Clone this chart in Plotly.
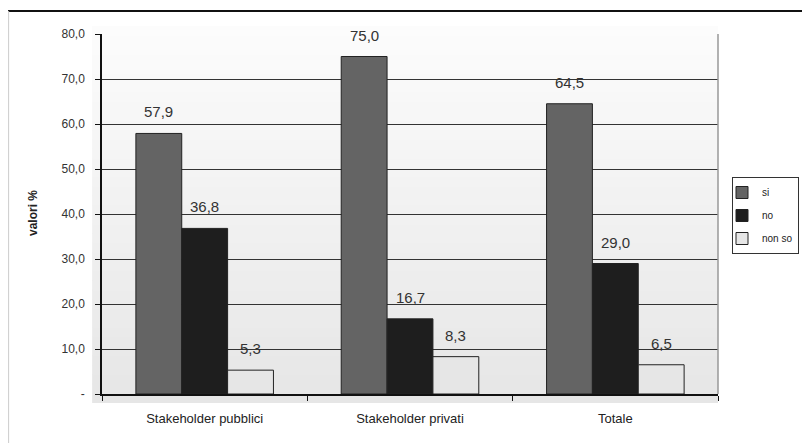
import plotly.graph_objects as go

categories = ["Stakeholder pubblici", "Stakeholder privati", "Totale"]
series_names = ["si", "no", "non so"]
si_values = [57.9, 75.0, 64.5]
no_values = [36.8, 16.7, 29.0]
nonso_values = [5.3, 8.3, 6.5]
y_tick_values = [0, 10, 20, 30, 40, 50, 60, 70, 80]
y_tick_labels = ["-", "10,0", "20,0", "30,0", "40,0", "50,0", "60,0", "70,0", "80,0"]
y_title = "valori %"

colors = ["#646464", "#1e1e1e", "#e6e6e6"]
FONT = "Liberation Sans, Arial, sans-serif"

# page body has an 8px margin
W, H = 802, 435
ML, MT = 94, 26
plot_w, plot_h = 616, 360
MR = W - ML - plot_w
MB = H - MT - plot_h
PL = ML + 8  # plot left in window coords
PT = MT + 8  # plot top in window coords
bargap = 0.33
bar_px = plot_w / len(categories) * (1 - bargap) / len(series_names)

fig = go.Figure()
annotations = []
all_vals = [si_values, no_values, nonso_values]
for k, (name, vals, col) in enumerate(zip(series_names, all_vals, colors)):
    fig.add_trace(go.Bar(
        x=categories, y=vals, name=name, legendgroup=name,
        marker=dict(color=col, line=dict(color="#222222", width=1)),
    ))
    for cat, v in zip(categories, vals):
        annotations.append(dict(
            x=cat, y=v, xref="x", yref="y", text=f"{v:.1f}".replace(".", ","),
            showarrow=False, yanchor="bottom", yshift=11,
            xshift=(k - 1) * bar_px,
            font=dict(size=15, family=FONT, color="#333333"),
        ))

annotations.append(dict(
    x=(33 - PL) / plot_w, y=1 - (213 - PT) / plot_h, xref="paper", yref="paper",
    xanchor="center", yanchor="middle",
    text="<b>" + y_title + "</b>", textangle=-90, showarrow=False,
    font=dict(size=12, family=FONT, color="#222222"),
))

shapes = []
n = 40
x0 = -0.016
for i in range(n):
    t = i / (n - 1)
    c = int(round(0xe6 + (0xfc - 0xe6) * t))
    shapes.append(dict(type="rect", xref="paper", yref="paper",
                       x0=x0, x1=1, y0=-0.025 + i * (1.045 / n), y1=-0.025 + (i + 1) * (1.045 / n) + 0.002,
                       fillcolor=f"rgb({c},{c},{c})", line=dict(width=0), layer="below"))
shapes.append(dict(type="line", xref="paper", yref="paper", x0=1, x1=1, y0=0, y1=1,
                   line=dict(color="#999999", width=1.5), layer="above"))
shapes.append(dict(type="line", xref="paper", yref="paper", x0=-ML / plot_w, x1=1.3, y0=1.064, y1=1.064,
                   line=dict(color="#111111", width=2)))
shapes.append(dict(type="line", xref="paper", yref="paper", x0=-ML / plot_w + 0.001, x1=-ML / plot_w + 0.001,
                   y0=1.064, y1=-0.3, line=dict(color="#cccccc", width=1)))

fig.update_layout(
    width=W, height=H,
    margin=dict(l=ML, r=MR, t=MT, b=MB, autoexpand=False),
    paper_bgcolor="white", plot_bgcolor="rgba(0,0,0,0)",
    separators=",.",
    barmode="group", bargap=bargap, bargroupgap=0,
    font=dict(family=FONT, color="#222222"),
    shapes=shapes,
    annotations=annotations,
    showlegend=True,
    legend=dict(x=(732 - PL) / plot_w, y=1 - (177 - PT) / plot_h, xanchor="left", yanchor="top",
                bgcolor="white", bordercolor="#333333", borderwidth=1,
                font=dict(size=10, family=FONT, color="#222222"),
                itemwidth=30, indentation=-11,
                traceorder="grouped", tracegroupgap=4),
    xaxis=dict(showline=True, linecolor="#111111", linewidth=1.5,
               ticks="outside", ticklen=5, tickcolor="#111111", tickson="boundaries",
               tickfont=dict(size=13, family=FONT, color="#222222"),
               ticklabelstandoff=12,
               showgrid=False, fixedrange=True, automargin=False),
    yaxis=dict(range=[0, 80], tickvals=y_tick_values, ticktext=y_tick_labels,
               showline=True, linecolor="#111111", linewidth=1.5,
               ticks="outside", ticklen=5, tickcolor="#111111",
               showgrid=True, gridcolor="#333333", gridwidth=1,
               zeroline=False,
               tickfont=dict(size=12, family=FONT, color="#333333"),
               ticklabelstandoff=8,
               fixedrange=True, automargin=False),
)

fig.write_html("out.html")
